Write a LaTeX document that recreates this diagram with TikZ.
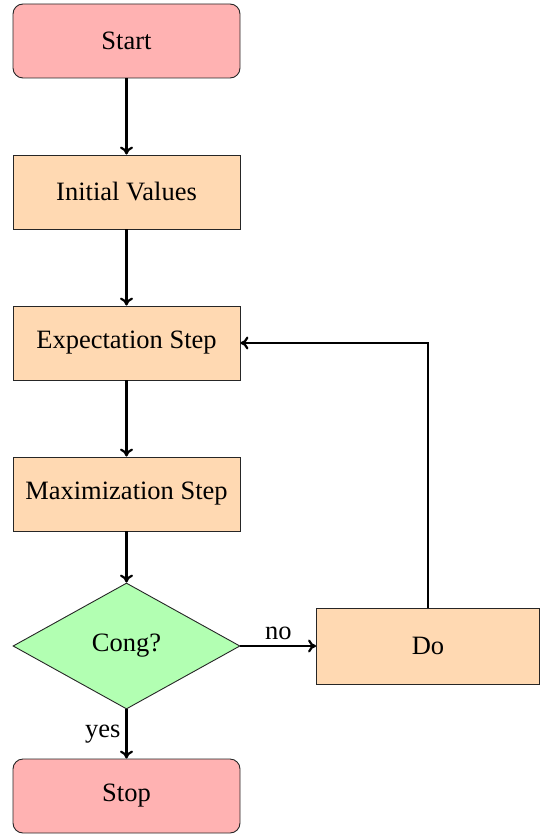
\documentclass[tikz,border=0pt]{standalone}
\usepackage{fontspec}
\setmainfont{Liberation Serif}
\usetikzlibrary{shapes.geometric,arrows.meta}
\definecolor{startred}{rgb}{1,0.7,0.7}
\definecolor{procorange}{rgb}{1,0.85,0.7}
\definecolor{decgreen}{rgb}{0.7,1,0.7}
\tikzset{
  every node/.style={font=\fontsize{26.5}{30}\selectfont},
  startstop/.style={rectangle, rounded corners=10pt, minimum width=227pt, minimum height=74pt, inner sep=0pt, draw=black!85, line width=0.9pt, fill=startred},
  process/.style={rectangle, minimum width=227pt, minimum height=74pt, inner sep=0pt, draw=black!85, line width=0.9pt, fill=procorange},
  decision/.style={diamond, aspect=1.8, minimum width=227pt, minimum height=126pt, inner sep=0pt, draw=black!85, line width=0.9pt, fill=decgreen},
  conn/.style={line width=2.2pt, -{To[length=8pt,width=13pt]}},
  lbl/.style={inner sep=5pt}
}
\begin{document}
\begin{tikzpicture}[x=1pt,y=1pt]
\useasboundingbox (0,0) rectangle (540,-834);
\node[startstop] (start) at (126.5,-41) {Start};
\node[process] (init) at (126.5,-192) {Initial Values};
\node[process] (exp) at (126.5,-343) {Expectation Step};
\node[process] (max) at (126.5,-494) {Maximization Step};
\node[decision] (dec) at (126.5,-646) {Cong?};
\node[process, minimum width=223pt, minimum height=76pt] (do) at (428,-646) {Do};
\node[startstop] (stop) at (126.5,-796) {Stop};
\draw[conn] (start) -- (init);
\draw[conn] (init) -- (exp);
\draw[conn] (exp) -- (max);
\draw[conn] (max) -- (dec);
\draw[conn] (dec) -- node[lbl, above] {no} (do);
\draw[conn] (dec) -- node[lbl, left] {yes} (stop);
\draw[conn] (do.north) |- (exp.east);
\end{tikzpicture}
\end{document}
